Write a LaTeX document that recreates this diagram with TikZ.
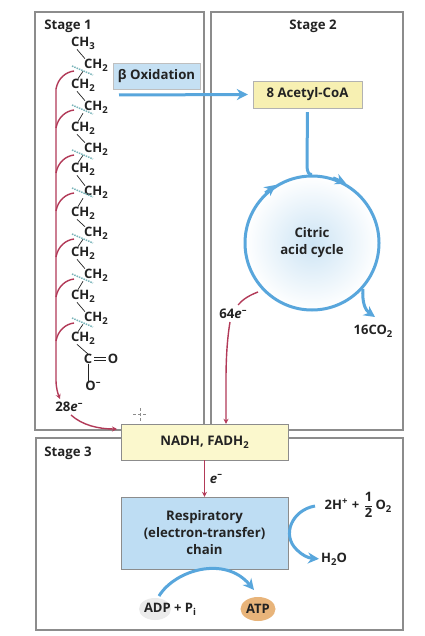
\documentclass[tikz,border=0pt]{standalone}
\usepackage{amsmath}
\usepackage{fontspec}
\setmainfont{Open Sans}
\usepackage{tikz}
\usetikzlibrary{arrows.meta,shapes.geometric}
\definecolor{framegray}{RGB}{140,140,140}
\definecolor{cblue}{RGB}{88,166,220}
\definecolor{cred}{RGB}{178,58,88}
\definecolor{ccut}{RGB}{120,180,185}
\definecolor{ctext}{RGB}{35,35,35}
\definecolor{cacetyl}{RGB}{247,240,178}
\definecolor{cnadh}{RGB}{251,248,205}
\definecolor{cresp}{RGB}{190,221,243}
\definecolor{catp}{RGB}{232,180,122}
\newcommand{\sbs}[1]{\raisebox{-0.4ex}{\fontsize{9.5}{10}\selectfont #1}}
\newcommand{\sps}[1]{\raisebox{0.7ex}{\fontsize{9.5}{10}\selectfont #1}}
\tikzset{
  framebox/.style={draw=framegray, line width=1.5pt, fill=white, inner sep=0pt},
  lbl/.style={font=\bfseries\fontsize{13.2}{17}\selectfont, text=ctext, inner sep=0pt, align=center},
  chem/.style={lbl, font=\bfseries\fontsize{13}{15}\selectfont},
  bond/.style={ctext, line width=0.7pt},
  cutline/.style={ccut, line width=1.5pt, densely dotted},
  bluearr/.style={cblue, line width=3pt, -{Stealth[length=11pt,width=11pt]}},
  blueline/.style={cblue, line width=3pt},
  redline/.style={cred, line width=1.4pt},
  redarr/.style={redline, -{Stealth[length=5pt,width=5pt]}},
}
\begin{document}
\begin{tikzpicture}[x=1pt,y=-1pt]
 \useasboundingbox (0,0) rectangle (424,636);
 \fill[white] (0,0) rectangle (424,636);
 % frames
 \node[framebox, minimum width=169, minimum height=418] (stageone) at (119.5,221) {};
 \node[framebox, minimum width=192, minimum height=418] (stagetwo) at (307,221) {};
 \node[framebox, minimum width=367, minimum height=192] (stagethree) at (219.5,534) {};
 \node[lbl] (lblone) at (68,26) {Stage 1};
 \node[lbl] (lbltwo) at (313,26) {Stage 2};
 \node[lbl] (lblthree) at (68,453) {Stage 3};
 % chain
 \foreach \nm/\xx/\yy/\ttl in {c1/83/43/{CH\sbs{3}}, c2/96/65/{CH\sbs{2}}, c3/83/85/{CH\sbs{2}},
     c4/96/107/{CH\sbs{2}}, c5/83/128/{CH\sbs{2}}, c6/96/149/{CH\sbs{2}}, c7/83/169/{CH\sbs{2}},
     c8/96/192/{CH\sbs{2}}, c9/83/213/{CH\sbs{2}}, c10/96/233/{CH\sbs{2}}, c11/83/253/{CH\sbs{2}},
     c12/96/275/{CH\sbs{2}}, c13/83/296/{CH\sbs{2}}, c14/96/318/{CH\sbs{2}}, c15/83/338/{CH\sbs{2}}}{
   \node[chem] (\nm) at (\xx,\yy) {\ttl};
 }
 \node[chem] (carbon) at (88,359) {C};
 \node[chem] (oxy) at (113,359) {O};
 \node[chem] (oxm) at (93,386) {O\sps{--}};
 \foreach \a/\b in {c1/c2,c3/c4,c5/c6,c7/c8,c9/c10,c11/c12,c13/c14}{
   \draw[bond] ([xshift=6pt]\a.south west) -- ([xshift=1pt]\b.north west);
 }
 \foreach \a/\b in {c2/c3,c4/c5,c6/c7,c8/c9,c10/c11,c12/c13,c14/c15}{
   \draw[bond] ([xshift=-1pt]\a.south west) -- ([xshift=7pt]\b.north west);
 }
 \draw[bond] ([xshift=6pt]c15.south west) -- (carbon.north);
 \draw[bond] (carbon.south) -- (oxm.north -| carbon.south);
 \draw[bond] ([yshift=1.5pt,xshift=2pt]carbon.east) -- ([yshift=1.5pt,xshift=-2pt]oxy.west);
 \draw[bond] ([yshift=-1.5pt,xshift=2pt]carbon.east) -- ([yshift=-1.5pt,xshift=-2pt]oxy.west);
 % cuts and electrons
 \foreach \i/\yy in {1/71,2/110,3/155,4/193,5/239,6/279,7/323}{
   \draw[cutline] (72,\yy-5) -- (93,\yy+4);
   \coordinate (cutend\i) at (74,\yy);
   \coordinate (trunk\i) at (56,\yy+18);
   \draw[redline] (cutend\i) .. controls (66,\yy+1) and (58,\yy+7) .. (trunk\i);
 }
 \node[lbl] (etwoeight) at (69,407) {28\textit{e}\sps{--}};
 \coordinate (trunkend) at (60,399);
 \draw[redarr] (trunk1) -- (56,380) .. controls (56,388) and (58,394) .. (trunkend);
 % stage 1 to 2
 \node[lbl, draw=black!25, fill=cblue!35, minimum width=87, minimum height=26] (betaox) at (156.5,76) {β Oxidation};
 \node[lbl, draw=black!30, fill=cacetyl, minimum width=109, minimum height=27] (acetyl) at (307.5,94.5) {8 Acetyl-CoA};
 \coordinate (oxstart) at (119,95);
 \draw[bluearr, shorten >=5pt] (oxstart) -- (acetyl.west);
 % cycle
 \node[circle, draw=cblue, line width=3pt, inner color=cblue!30, outer color=white, minimum size=134, inner sep=0pt,
       lbl] (cycle) at (312,243) {Citric\\acid cycle};
 \draw[blueline, shorten <=4pt] (acetyl.south) -- (307,166) .. controls (307,172) and (309,175) .. (cycle.north);
 \draw[bluearr] (cycle.133) -- (cycle.122);
 \draw[bluearr] (cycle.72) -- (cycle.60);
 \node[chem] (cotwo) at (373,331) {16CO\sbs{2}};
 \coordinate (cotwotip) at (375,317);
 \draw[bluearr] (cycle.-42) .. controls (362,302) and (365,310) .. (cotwotip);
 \node[lbl] (esixfour) at (233,314) {64\textit{e}\sps{--}};
 % nadh
 \node[lbl, draw=black!45, fill=cnadh, minimum width=167, minimum height=36] (nadh) at (204.5,442) {NADH, FADH\sbs{2}};
 \node[lbl, draw=black!45, fill=cresp, minimum width=167, minimum height=72] (resp) at (204.5,533) {Respiratory\\(electron-transfer)\\chain};
 \coordinate (cycleleft) at (258,292);
 \coordinate (sixfourtop) at (238,305);
 \coordinate (sixfourlow) at (230,322);
 \coordinate (sixfourbend) at (226,380);
 \coordinate (nadhleft) at (120,429);
 \draw[redline] (cycleleft) .. controls (250,295) and (243,299) .. (sixfourtop);
 \draw[redarr] (sixfourlow) .. controls (227,340) and (226,360) .. (sixfourbend) -- (sixfourbend |- nadh.north);
 \coordinate (etwoeightlow) at (71,415);
 \draw[redarr, shorten >=3pt] (etwoeightlow) .. controls (82,425) and (98,429) .. (nadhleft);
 \draw[redarr] (nadh.south) -- (resp.north);
 \node[lbl] (elabel) at (216,479) {\textit{e}\sps{--}};
 % stage 3
 \node[chem] (htwo) at (358,505) {2H\sps{+}\,\,+\,\,$\dfrac{\textbf{1}}{\textbf{2}}$\,O\sbs{2}};
 \node[chem] (water) at (334,559) {H\sbs{2}O};
 \coordinate (htwoend) at (315,506);
 \draw[bluearr, shorten >=2pt] (htwoend) .. controls (292,510) and (281,535) .. (297,550) .. controls (302,555) and (308,558) .. (water.west);
 \node[ellipse, fill=black!8, minimum width=32, minimum height=22, inner sep=0pt] (adpfill) at (155,609) {};
 \node[chem, anchor=center] (adp) at (170,609) {ADP + P\sbs{i}};
 \node[ellipse, fill=catp, minimum width=35, minimum height=24, inner sep=0pt, chem] (atp) at (258,609) {ATP};
 \coordinate (adpstart) at (159,596);
 \coordinate (atptip) at (254,590);
 \draw[bluearr] (adpstart) .. controls (175,570) and (225,555) .. (atptip);
 % cursor
 \node[inner sep=0pt] (cursor) at (140,414) {};
 \draw[black!45, densely dashed, line width=0.5pt] ([xshift=-7pt]cursor.center) -- ([xshift=7pt]cursor.center);
 \draw[black!45, densely dashed, line width=0.5pt] ([yshift=-7pt]cursor.center) -- ([yshift=7pt]cursor.center);
\end{tikzpicture}
\end{document}
